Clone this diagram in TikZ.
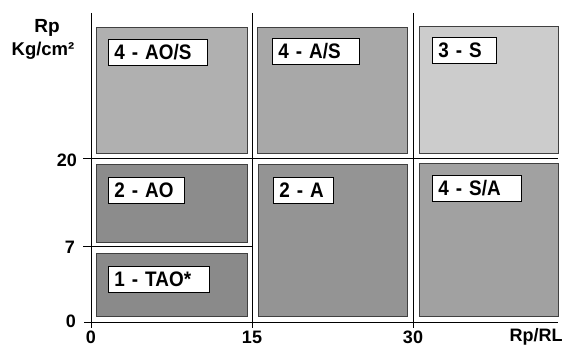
\documentclass[tikz,border=0pt]{standalone}
\usepackage{fontspec}
\setmainfont{Liberation Sans}
\newfontfamily\tagfont[FakeStretch=0.9]{Liberation Sans}
\begin{document}
\begin{tikzpicture}[x=1pt,y=-1pt,
  zone/.style={draw=black!75,line width=0.9pt},
  tag/.style={draw=black,fill=white,line width=0.9pt,anchor=north west,inner xsep=6pt,inner ysep=0pt,minimum height=26pt,align=left,font=\tagfont\fontsize{21}{22}\selectfont\bfseries},
  axlab/.style={font=\fontsize{18}{19}\selectfont\bfseries,inner sep=0pt},
  grid/.style={draw=black,line width=1pt}]
\useasboundingbox (0,0) rectangle (567,347);
% zones
\filldraw[zone,fill=black!31] (96,27) rectangle (247,153);
\filldraw[zone,fill=black!34] (257,27) rectangle (407,153);
\filldraw[zone,fill=black!20] (419,26) rectangle (558,153);
\filldraw[zone,fill=black!45] (96,164) rectangle (247,242);
\filldraw[zone,fill=black!42] (258,164) rectangle (407,316);
\filldraw[zone,fill=black!37] (419,163) rectangle (558,316);
\filldraw[zone,fill=black!46] (96,253) rectangle (247,316);
% grid / axes
\draw[grid] (91,13) -- (91,328);
\draw[grid] (252,13) -- (252,328);
\draw[grid] (413,13) -- (413,328);
\draw[grid] (84,322) -- (558,322);
\draw[grid] (83,159) -- (558,159);
\draw[grid] (83,247) -- (252,247);
% tags
\node[tag,minimum width=99pt,text width=87pt] (t1) at (108,39) {4 - AO/S};
\node[tag,minimum width=87pt,text width=75pt] (t2) at (272,38) {4 - A/S};
\node[tag,minimum width=64pt,text width=52pt] (t3) at (432,37) {3 - S};
\node[tag,minimum width=76pt,text width=64pt] (t4) at (108,177) {2 - AO};
\node[tag,minimum width=60pt,text width=48pt] (t5) at (273,177) {2 - A};
\node[tag,minimum width=89pt,text width=77pt] (t6) at (432,175) {4 - S/A};
\node[tag,minimum width=101pt,text width=89pt] (t7) at (108,266) {1 - TAO*};
% axis labels
\node[axlab,font=\fontsize{19}{20}\selectfont\bfseries] (rp) at (47,28) {Rp};
\node[axlab,font=\fontsize{18.5}{20}\selectfont\bfseries] (kg) at (43,51) {Kg/cm²};
\node[axlab] (y20) at (67,160) {20};
\node[axlab] (y7) at (70,247) {7};
\node[axlab] (y0) at (71,321) {0};
\node[axlab] (x0) at (91,337) {0};
\node[axlab] (x15) at (252,337) {15};
\node[axlab] (x30) at (413,337) {30};
\node[axlab] (xl) at (536,337) {Rp/RL};
\end{tikzpicture}
\end{document}
